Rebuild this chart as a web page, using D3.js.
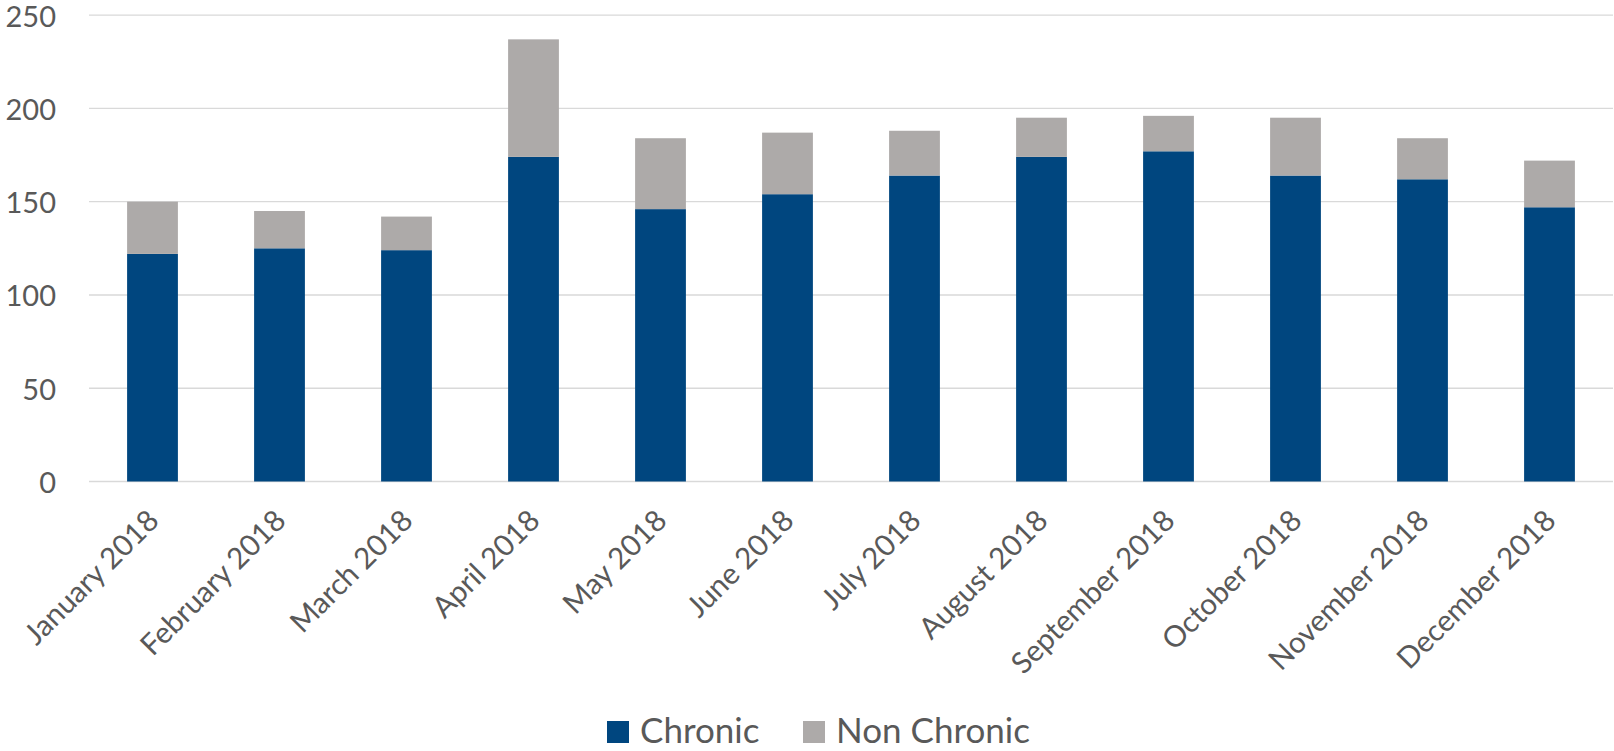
<!DOCTYPE html>
<html>
<head>
<meta charset="utf-8">
<script src="https://cdn.jsdelivr.net/npm/d3@7"></script>
<style>
  html, body { margin: 0; padding: 0; background: #fff; }
  svg { display: block; }
  text { font-family: Lato, "Open Sans", sans-serif; fill: #595959; }
</style>
</head>
<body>
<svg id="chart" width="1614" height="751"></svg>
<script>
// Monthly counts, split into chronic and non-chronic
const months = ["January 2018", "February 2018", "March 2018", "April 2018", "May 2018", "June 2018",
                "July 2018", "August 2018", "September 2018", "October 2018", "November 2018", "December 2018"];
const chronic    = [122, 125, 124, 174, 146, 154, 164, 174, 177, 164, 162, 147];
const nonChronic = [ 28,  20,  18,  63,  38,  33,  24,  21,  19,  31,  22,  25];
const yTicks = [0, 50, 100, 150, 200, 250];
const seriesNames = ["Chronic", "Non Chronic"];
const seriesColors = ["#00467f", "#adaaa9"];

const svg = d3.select("#chart");
const margin = { left: 89, right: 1613, top: 15.1, bottom: 481.5 };

const x = d3.scaleBand().domain(months).range([margin.left, margin.right])
  .paddingInner(0.6).paddingOuter(0.3);
const y = d3.scaleLinear().domain([0, 250]).range([margin.bottom, margin.top]);

// Horizontal gridlines
svg.append("g").selectAll("line").data(yTicks).join("line")
  .attr("x1", margin.left).attr("x2", margin.right)
  .attr("y1", d => y(d)).attr("y2", d => y(d))
  .attr("stroke", "#d9d9d9").attr("stroke-width", 1.4);

// Y axis labels
const yAxis = svg.append("g").attr("transform", `translate(${margin.left - 33},0)`)
  .call(d3.axisLeft(y).tickValues(yTicks).tickSize(0).tickPadding(0));
yAxis.select(".domain").remove();
yAxis.selectAll("text").style("font-size", "29px").attr("fill", "#595959")
  .style("font-family", "Lato, 'Open Sans', sans-serif").attr("dy", "0.38em");

// Stacked bars
const rows = months.map((m, i) => ({ month: m, Chronic: chronic[i], "Non Chronic": nonChronic[i] }));
const stacked = d3.stack().keys(seriesNames)(rows);
svg.append("g").selectAll("g").data(stacked).join("g")
  .attr("fill", (d, i) => seriesColors[i])
  .selectAll("rect").data(d => d).join("rect")
  .attr("x", d => x(d.data.month))
  .attr("width", x.bandwidth())
  .attr("y", d => y(d[1]))
  .attr("height", d => y(d[0]) - y(d[1]));

// X axis labels, rotated
const xAxis = svg.append("g").attr("transform", `translate(0,${margin.bottom})`)
  .call(d3.axisBottom(x).tickSize(0).tickPadding(0));
xAxis.select(".domain").remove();
xAxis.selectAll("text")
  .style("font-size", "29.5px").attr("fill", "#595959")
  .style("font-family", "Lato, 'Open Sans', sans-serif")
  .attr("text-anchor", "end")
  .attr("dy", null).attr("y", 0)
  .attr("transform", "translate(8,41) rotate(-45)");

// Legend
const legend = svg.append("g");
const legendItems = [
  { name: "Chronic", color: seriesColors[0], x: 607 },
  { name: "Non Chronic", color: seriesColors[1], x: 803 }
];
legendItems.forEach(it => {
  legend.append("rect").attr("x", it.x).attr("y", 721).attr("width", 22).attr("height", 22).attr("fill", it.color);
  legend.append("text").attr("x", it.x + 33).attr("y", 743)
    .style("font-size", "35px").text(it.name);
});
</script>
</body>
</html>
